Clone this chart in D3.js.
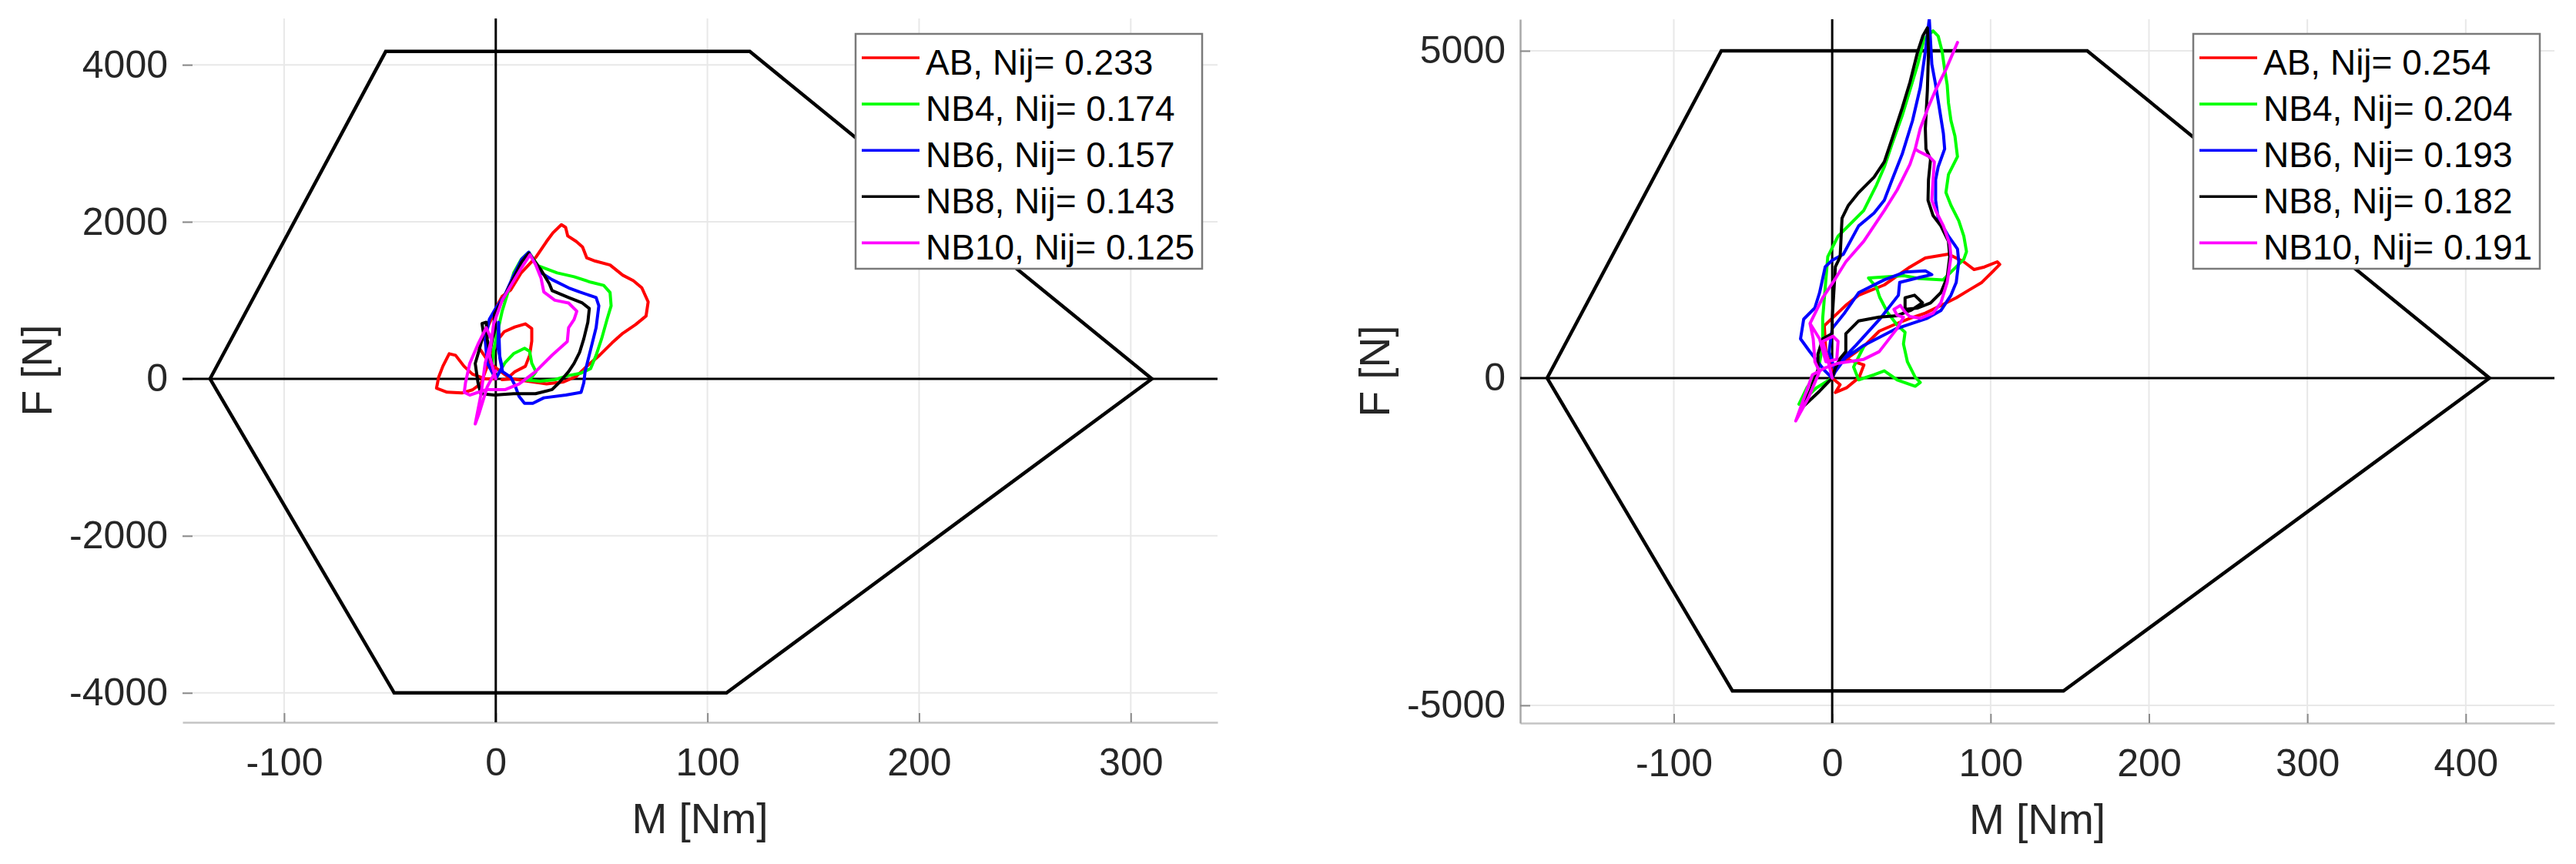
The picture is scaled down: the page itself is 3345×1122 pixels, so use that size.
<!DOCTYPE html>
<html>
<head>
<meta charset="utf-8">
<script src="https://cdn.jsdelivr.net/npm/d3@7"></script>
<style>
  html, body { margin: 0; padding: 0; background: #fff; }
  svg { display: block; font-family: "Liberation Sans", Arial, Helvetica, sans-serif; }
</style>
</head>
<body>
<svg id="chart" width="3345" height="1122"></svg>
<script>
// ---------------- DATA ----------------
const seriesNames = ["AB", "NB4", "NB6", "NB8", "NB10"];
const nijLeft  = [0.233, 0.174, 0.157, 0.143, 0.125];
const nijRight = [0.254, 0.204, 0.193, 0.182, 0.191];

const xTicksLeft  = [-100, 0, 100, 200, 300];
const yTicksLeft  = [-4000, -2000, 0, 2000, 4000];
const xTicksRight = [-100, 0, 100, 200, 300, 400];
const yTicksRight = [-5000, 0, 5000];

// Nij critical limit hexagons [M, F]
const limitLeft  = [[-135, 0], [-52, 4170], [120, 4170], [310, 0], [109, -4000], [-48, -4000], [-135, 0]];
const limitRight = [[-180, 0], [-70, 5000], [161, 5000], [415, 0], [146, -4780], [-63, -4780], [-180, 0]];

// Left panel traces [M (Nm), F (N)]
const leftAB = [[0,0],[-5,0],[-11,60],[-15,160],[-19,300],[-22,320],[-25,160],[-27,20],[-28,-120],[-23,-170],[-16,-180],[-11,-140],[-7,-60],[-5,90],[-2,300],[1,500],[4,600],[9,660],[14,700],[17,640],[17,480],[16,300],[14,160],[9,90],[6,20],[-3,200],[-8,400],[-4,650],[1,950],[3,1050],[7,1130],[12,1350],[19,1550],[24,1750],[27,1860],[31,1964],[33,1930],[34,1820],[38,1750],[41,1680],[43,1540],[47,1500],[54,1450],[60,1320],[65,1250],[69,1160],[72,980],[71,800],[66,690],[60,580],[55,460],[49,300],[43,160],[38,30],[32,-40],[24,-65],[15,-30],[8,0],[3,-10]];
const leftNB4 = [[0,0],[-2,100],[-1,370],[3,860],[7,1210],[8.5,1350],[12,1520],[15.6,1613],[20,1440],[29,1350],[37,1300],[45,1230],[51,1190],[54,1100],[54.5,930],[52.6,760],[50,510],[47.4,300],[44.8,130],[40,70],[34,40],[28,-10],[21,-30],[14,-15],[17,20],[19,90],[17,200],[16,350],[13.6,390],[8.4,320],[4.5,210],[2,100],[0,0]];
const leftNB6 = [[0,0],[-4,200],[-5,500],[-3,760],[0,900],[4,1050],[8.4,1316],[12.3,1526],[15.6,1613],[21.4,1351],[26.6,1264],[34.4,1159],[39.6,1106],[47.4,1036],[48.7,931],[47.4,651],[44.8,371],[42.2,91],[41.6,-49],[40.3,-172],[33.1,-207],[22.7,-242],[17.5,-312],[13.6,-312],[11,-224],[9.1,-84],[7.1,21],[3.2,91],[1.9,266],[1.3,721],[1,400],[3,150],[0,0]];
const leftNB8 = [[0,0],[-3,300],[-1,600],[-0.6,826],[4.5,1071],[8.4,1281],[12.3,1491],[15.6,1600],[21.4,1386],[25.3,1211],[26.6,1124],[34.4,1036],[40.9,966],[44.2,896],[43.5,721],[41.6,511],[39.6,336],[37,196],[34.4,91],[29.9,-49],[26.6,-137],[18.8,-189],[8.4,-189],[-0.6,-207],[-7.1,-189],[-8.4,-49],[-9.7,196],[-7.8,371],[-5.8,581],[-6.5,704],[-4.5,721],[-4,500],[-2,200],[0,0]];
const leftNB10 = [[0,0],[-3,300],[-1,700],[3,1000],[8.4,1246],[12.3,1421],[16.2,1579],[18.8,1456],[21.4,1281],[22.7,1106],[27.9,1001],[34.4,966],[38.3,861],[37,756],[34.4,651],[33.8,476],[26.6,301],[18.8,91],[11,-66],[4.5,-137],[-4.5,-137],[-12.3,-207],[-14.9,-172],[-14.3,-49],[-12.3,196],[-8.4,441],[-4.5,651],[-2,500],[-5,200],[-7,-200],[-9.7,-574],[-8,-450],[-4,-100],[0,100]];

// Right panel traces [M (Nm), F (N)]
const rightAB = [[0,0],[5,-100],[2,-220],[9,-150],[17,10],[20,200],[9,290],[0,130],[-4,400],[-5,800],[2,960],[9,1120],[16.7,1266],[32.9,1423],[49.1,1697],[58.8,1835],[73.4,1893],[83.1,1776],[89.6,1658],[96.1,1697],[104.2,1776],[105.8,1737],[101,1619],[94.5,1462],[86.4,1345],[78.3,1227],[68.6,1109],[58.8,992],[49.1,913],[41,835],[29.7,717],[19.9,482],[8.6,286],[0.5,129],[0,0]];
const rightNB4 = [[0,0],[-10,-150],[-21,-400],[-16,-150],[-9,100],[-6,500],[-6,913],[-2.8,1854],[3.7,2168],[10.2,2325],[19.9,2560],[28,2952],[32.9,3226],[37.8,3579],[44.2,4010],[49.1,4402],[54,4794],[58,5186],[63.7,5304],[66.9,5225],[69.4,4990],[71,4716],[72.6,4481],[73.4,4206],[75,3932],[77.5,3697],[79.1,3383],[73.4,3109],[71.8,2834],[75,2638],[79.9,2403],[83.1,2168],[84.8,1932],[83.1,1815],[70,1500],[55,1520],[45.2,1565],[22.9,1529],[28,1384],[30,1235],[35,1000],[41,812],[46,700],[45,521],[47.5,247],[52.4,12],[55.6,-67],[52.4,-125],[41,-27],[32.9,110],[26.4,51],[16.7,-27],[13.5,169],[16.7,325],[19.9,478],[10,350],[3,200],[0,0]];
const rightNB6 = [[0,0],[-5,120],[-14,400],[-20,600],[-18,900],[-11,1070],[-8,1300],[-4.4,1700],[0,1800],[7,1890],[16.7,2325],[26.4,2521],[32.9,2717],[37.8,3030],[44.2,3422],[50.7,3932],[55.6,4441],[58.8,4990],[61.3,5490],[62.9,4794],[65.3,4481],[70.2,3736],[71,3501],[66.9,3226],[65.3,3030],[65.3,2717],[66.9,2442],[73.4,2168],[79.1,1972],[79.9,1776],[78.3,1462],[75,1266],[68.6,1031],[60,913],[40,750],[20,500],[8,300],[2,100],[-2,400],[0,757],[8,1000],[16.7,1305],[32.9,1501],[45.9,1619],[58.8,1639],[62.9,1580],[55.6,1541],[42.6,1462],[41.8,1266],[30,900],[15,500],[5,250],[0,0]];
const rightNB8 = [[0,0],[-8,-200],[-19,-450],[-14,-200],[-9,130],[-9,365],[-6,600],[0,680],[0,900],[1,1300],[2,1700],[5,1850],[6.2,2442],[10.2,2638],[16.7,2834],[26.4,3069],[32.9,3305],[37.8,3657],[44.2,4128],[49.1,4520],[54,4990],[57.2,5225],[60.1,5351],[60.8,4990],[60.1,4402],[58.8,3814],[59.2,3501],[62.1,3344],[60.8,3030],[60.5,2717],[63.7,2481],[68.6,2325],[73.4,2089],[74.2,1854],[72.6,1541],[68.6,1305],[62.1,1149],[54,1070],[46,1050],[46,1227],[52,1266],[57,1150],[50,1040],[41,953],[29.7,933],[16.7,874],[8.6,678],[8.6,404],[5,300],[2,150],[0,0]];
const rightNB10 = [[0,0],[-3,300],[-6,561],[0.5,639],[3.7,561],[2.9,286],[-4,250],[-8,600],[-14,835],[-6,1227],[0.5,1462],[8.6,1776],[19.9,2089],[32.9,2560],[41,2873],[49.1,3265],[52.4,3501],[54.8,3461],[61.3,3383],[64.5,3305],[63.7,3030],[62.9,2717],[65.3,2560],[70.2,2325],[74.2,2050],[75,1854],[72.6,1462],[68.6,1149],[63.7,992],[55.6,913],[49,940],[46,1010],[43,1110],[39,1050],[41,960],[45,930],[41,757],[29.7,404],[19.9,286],[3.7,227],[-5,150],[-12.5,51],[-23,-655],[-15,-300],[-8,100],[-10.9,247],[-12,600],[-14,835],[-6,1227],[0.5,1462],[8.6,1776],[19.9,2089],[32.9,2560],[41,2873],[49.1,3265],[52.4,3501],[55.6,3814],[60.5,4128],[65.3,4402],[71.8,4716],[79.1,5127]];

// ---------------- STYLE ----------------
const seriesColors = ["#ff0000", "#00ff00", "#0000ff", "#000000", "#ff00ff"];
const FONT_TICK = 50, FONT_LABEL = 55, FONT_LEGEND = 46;
const fmt = d => String(d); // plain hyphen-minus like the original

const svg = d3.select("#chart");
svg.append("rect").attr("width", 3345).attr("height", 1122).attr("fill", "#fff");

function drawPanel(cfg, idx) {
  const x = d3.scaleLinear().domain(cfg.xDomain).range([cfg.left, cfg.right]);
  const y = d3.scaleLinear().domain(cfg.yDomain).range([cfg.bottom, cfg.top]);
  const g = svg.append("g");

  const clipId = "clip" + idx;
  svg.append("defs").append("clipPath").attr("id", clipId)
    .append("rect").attr("x", cfg.left).attr("y", cfg.top)
    .attr("width", cfg.right - cfg.left).attr("height", cfg.bottom - cfg.top);

  // grid
  g.selectAll(".gx").data(cfg.xTicks).enter().append("line")
    .attr("x1", d => x(d)).attr("x2", d => x(d))
    .attr("y1", cfg.top).attr("y2", cfg.bottom)
    .attr("stroke", "#e8e8e8").attr("stroke-width", 2);
  g.selectAll(".gy").data(cfg.yTicks).enter().append("line")
    .attr("x1", cfg.left).attr("x2", cfg.right)
    .attr("y1", d => y(d)).attr("y2", d => y(d))
    .attr("stroke", "#e8e8e8").attr("stroke-width", 2);

  // axes
  const xAxis = d3.axisBottom(x).tickValues(cfg.xTicks).tickSizeInner(-12).tickSizeOuter(0).tickPadding(33).tickFormat(fmt);
  const gx = g.append("g").attr("transform", `translate(0,${cfg.bottom})`).call(xAxis);
  gx.select(".domain").attr("stroke", "#c4c4c4").attr("stroke-width", 2.5);
  gx.selectAll(".tick line").attr("stroke", "#8a8a8a").attr("stroke-width", 2);
  gx.selectAll(".tick text").attr("font-size", FONT_TICK).attr("fill", "#262626")
    .attr("font-family", "'Liberation Sans', Arial, sans-serif");

  const yAxis = d3.axisLeft(y).tickValues(cfg.yTicks).tickSizeInner(-13).tickSizeOuter(0).tickPadding(19).tickFormat(fmt);
  const gy = g.append("g").attr("transform", `translate(${cfg.left},0)`).call(yAxis);
  if (cfg.showYSpine) {
    gy.select(".domain").attr("stroke", "#a8a8a8").attr("stroke-width", 2.5);
  } else {
    gy.select(".domain").remove();
  }
  gy.selectAll(".tick line").attr("stroke", "#8a8a8a").attr("stroke-width", 2);
  gy.selectAll(".tick text").attr("font-size", FONT_TICK).attr("fill", "#262626")
    .attr("font-family", "'Liberation Sans', Arial, sans-serif");

  // axis labels
  g.append("text").attr("x", (cfg.left + cfg.right) / 2).attr("y", cfg.bottom + 144)
    .attr("text-anchor", "middle").attr("font-size", FONT_LABEL).attr("fill", "#262626")
    .text("M [Nm]");
  g.append("text").attr("transform", `translate(${cfg.left - 170},${(cfg.top + cfg.bottom) / 2}) rotate(-90)`)
    .attr("text-anchor", "middle").attr("font-size", FONT_LABEL).attr("fill", "#262626")
    .text("F [N]");

  const plot = g.append("g").attr("clip-path", `url(#${clipId})`);
  const line = d3.line().x(d => x(d[0])).y(d => y(d[1]));

  // limit hexagon
  plot.append("path").attr("d", line(cfg.limit)).attr("fill", "none")
    .attr("stroke", "#000").attr("stroke-width", 4.5).attr("stroke-linejoin", "miter");

  // zero lines
  plot.append("line").attr("x1", cfg.left).attr("x2", cfg.right).attr("y1", y(0)).attr("y2", y(0))
    .attr("stroke", "#000").attr("stroke-width", 3);
  plot.append("line").attr("x1", x(0)).attr("x2", x(0)).attr("y1", cfg.top).attr("y2", cfg.bottom)
    .attr("stroke", "#000").attr("stroke-width", 3);

  // data traces
  cfg.series.forEach((s, i) => {
    plot.append("path").attr("d", line(s)).attr("fill", "none")
      .attr("stroke", seriesColors[i]).attr("stroke-width", 4)
      .attr("stroke-linejoin", "round").attr("stroke-linecap", "round");
  });

  // legend
  const lg = g.append("g");
  lg.append("rect").attr("x", cfg.legendX).attr("y", 44).attr("width", 450).attr("height", 305)
    .attr("fill", "#fff").attr("stroke", "#7a7a7a").attr("stroke-width", 2.5);
  seriesNames.forEach((n, i) => {
    const ly = 75 + 60.1 * i;
    lg.append("line").attr("x1", cfg.legendX + 8).attr("x2", cfg.legendX + 83)
      .attr("y1", ly).attr("y2", ly).attr("stroke", seriesColors[i]).attr("stroke-width", 3.6);
    lg.append("text").attr("x", cfg.legendX + 91).attr("y", ly + 21.5)
      .attr("font-size", FONT_LEGEND).attr("fill", "#000")
      .text(`${n}, Nij= ${cfg.nij[i].toFixed(3)}`);
  });
}

drawPanel({
  left: 237, right: 1581, top: 24, bottom: 938,
  xDomain: [-148, 341], yDomain: [-4375, 4590],
  xTicks: xTicksLeft, yTicks: yTicksLeft,
  limit: limitLeft, series: [leftAB, leftNB4, leftNB6, leftNB8, leftNB10],
  nij: nijLeft, legendX: 1111, showYSpine: false
}, 0);

drawPanel({
  left: 1974, right: 3317, top: 25, bottom: 939,
  xDomain: [-197, 456], yDomain: [-5271, 5482],
  xTicks: xTicksRight, yTicks: yTicksRight,
  limit: limitRight, series: [rightAB, rightNB4, rightNB6, rightNB8, rightNB10],
  nij: nijRight, legendX: 2848, showYSpine: true
}, 1);
</script>
</body>
</html>
